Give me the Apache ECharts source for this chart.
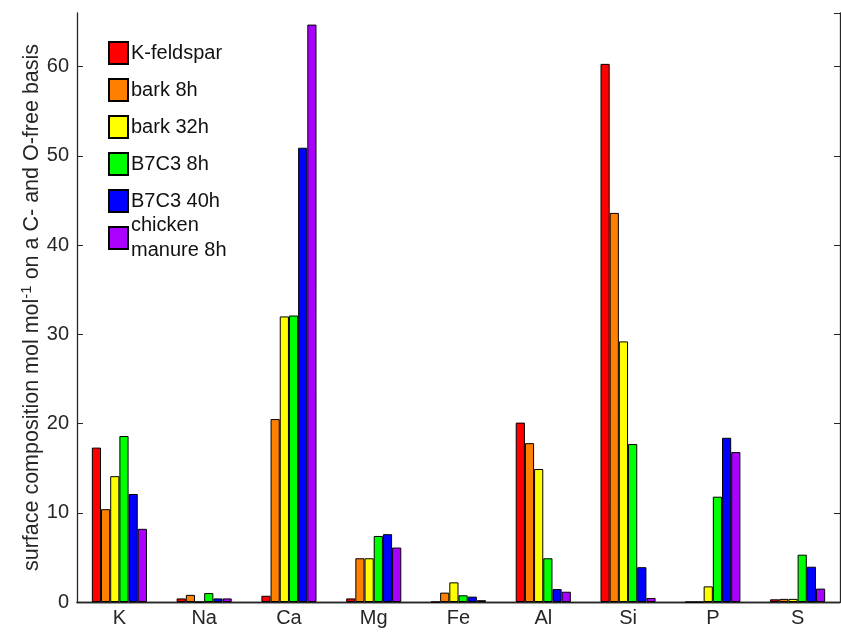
<!DOCTYPE html>
<html>
<head>
<meta charset="utf-8">
<script src="https://cdn.jsdelivr.net/npm/echarts@6/dist/echarts.min.js"></script>
<style>
  html, body { margin: 0; padding: 0; background: #fff; }
  #chart { width: 841px; height: 634px; }
</style>
</head>
<body>
<div id="chart"></div>
<script>
// elements on the x axis
var elements = ['K', 'Na', 'Ca', 'Mg', 'Fe', 'Al', 'Si', 'P', 'S'];

// surface composition, mol mol-1 (C- and O-free basis)
var kFeldspar = [17.3, 0.4, 0.7, 0.4, 0, 20.1, 60.3, 0, 0.3];
var bark8h    = [10.4, 0.8, 20.5, 4.9, 1.05, 17.8, 43.6, 0, 0.35];
var bark32h   = [14.1, 0, 32.0, 4.9, 2.2, 14.9, 29.2, 1.75, 0.35];
var b7c3_8h   = [18.6, 1.0, 32.1, 7.4, 0.75, 4.9, 17.7, 11.8, 5.3];
var b7c3_40h  = [12.1, 0.4, 50.9, 7.6, 0.6, 1.45, 3.9, 18.4, 3.95];
var chicken8h = [8.2, 0.4, 64.7, 6.1, 0.2, 1.15, 0.45, 16.8, 1.5];

var seriesNames = ['K-feldspar', 'bark 8h', 'bark 32h', 'B7C3 8h', 'B7C3 40h', 'chicken\nmanure 8h'];
var seriesData = [kFeldspar, bark8h, bark32h, b7c3_8h, b7c3_40h, chicken8h];
var colors = ['#ff0000', '#ff8000', '#ffff00', '#00ff00', '#0000ff', '#aa00ff'];

var axisColor = '#262626';
var font = 'Liberation Sans, Arial, Helvetica, sans-serif';

var myChart = echarts.init(document.getElementById('chart'));

var series = [];
for (var i = 0; i < seriesNames.length; i++) {
  series.push({
    name: seriesNames[i],
    type: 'bar',
    data: seriesData[i],
    barGap: 0,
    barCategoryGap: '35%',
    itemStyle: {
      color: colors[i],
      borderColor: '#000',
      borderWidth: 1
    }
  });
}

var option = {
  animation: false,
  color: colors,
  textStyle: { fontFamily: font },
  grid: { left: 77, right: 1, top: 13, bottom: 32 },
  legend: [{
    orient: 'vertical',
    left: 108,
    top: 41,
    padding: 0,
    itemWidth: 19,
    itemHeight: 22,
    itemGap: 13,
    icon: 'rect',
    data: seriesNames.slice(0, 5),
    textStyle: { fontSize: 20, color: '#111', lineHeight: 22, padding: [0, 0, 0, -2] }
  }, {
    orient: 'vertical',
    left: 108,
    top: 213,
    padding: 0,
    itemWidth: 19,
    itemHeight: 22,
    icon: 'rect',
    data: seriesNames.slice(5),
    textStyle: { fontSize: 20, color: '#111', lineHeight: 25, padding: [0, 0, 0, -2] }
  }],
  xAxis: [{
    type: 'category',
    data: elements,
    position: 'bottom',
    axisLine: { lineStyle: { color: axisColor, width: 1.3 } },
    axisTick: { inside: true, alignWithLabel: true, length: 6, lineStyle: { color: axisColor } },
    axisLabel: { fontSize: 20, color: axisColor, margin: 6 }
  }, {
    type: 'category',
    data: elements,
    position: 'top',
    axisLine: { lineStyle: { color: axisColor, width: 1.3 } },
    axisTick: { inside: true, alignWithLabel: true, length: 6, lineStyle: { color: axisColor } },
    axisLabel: { show: false }
  }],
  yAxis: [{
    type: 'value',
    min: 0,
    max: 66,
    interval: 10,
    position: 'left',
    name: '{n|surface composition mol mol}{s|-1}{n| on a C- and O-free basis}',
    nameLocation: 'middle',
    nameGap: 34,
    nameMoveOverlap: false,
    nameTextStyle: {
      rich: {
        n: { fontSize: 21.5, color: axisColor, fontFamily: font, lineHeight: 24, verticalAlign: 'bottom' },
        s: { fontSize: 15, color: axisColor, fontFamily: font, lineHeight: 24, verticalAlign: 'top', padding: [0, 0, 11, 0] }
      }
    },
    splitLine: { show: false },
    axisLine: { show: true, lineStyle: { color: axisColor, width: 1.3 } },
    axisTick: { show: true, inside: true, length: 6, lineStyle: { color: axisColor } },
    axisLabel: { fontSize: 20, color: axisColor, margin: 8, showMaxLabel: false }
  }, {
    type: 'value',
    min: 0,
    max: 66,
    interval: 10,
    position: 'right',
    splitLine: { show: false },
    axisLine: { show: true, lineStyle: { color: axisColor, width: 1.3 } },
    axisTick: { show: true, inside: true, length: 6, lineStyle: { color: axisColor } },
    axisLabel: { show: false }
  }],
  series: series
};

myChart.setOption(option);
</script>
</body>
</html>
